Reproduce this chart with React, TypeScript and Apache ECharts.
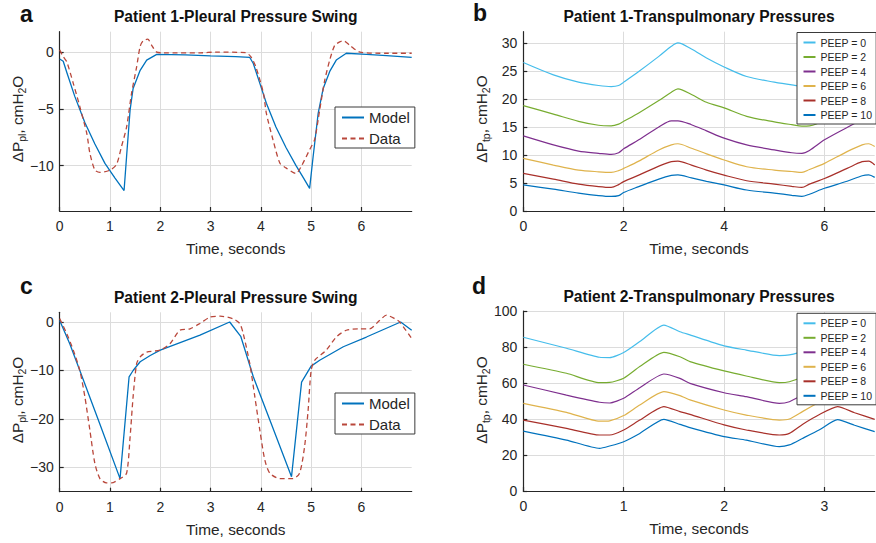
import React, { useEffect, useRef } from 'react';
import * as echarts from 'echarts';

const FONT = '"Liberation Sans", Arial, Helvetica, sans-serif';
const INK = '#262626';

// ---------- Panel a: Patient 1 pleural pressure swing ----------
const p1ModelT = [0, 0.07, 0.15, 0.3, 0.5, 0.7, 0.9, 1.1, 1.28, 1.33, 1.4, 1.46, 1.6, 1.73, 1.93, 2.5, 3.0, 3.5, 3.78, 3.85, 3.98, 4.11, 4.3, 4.5, 4.7, 4.85, 4.97, 5.04, 5.14, 5.24, 5.37, 5.5, 5.7, 6.1, 6.5, 7.0];
const p1ModelV = [-0.6, -0.8, -1.9, -3.9, -6.2, -8.1, -9.8, -11.1, -12.2, -9.2, -5.1, -3.2, -1.6, -0.7, -0.2, -0.25, -0.33, -0.4, -0.47, -1.0, -2.75, -4.5, -6.6, -8.4, -10.0, -11.1, -12.0, -9.2, -5.4, -3.2, -1.7, -0.7, -0.1, -0.2, -0.3, -0.47];
const p1DataT = [0, 0.07, 0.14, 0.27, 0.4, 0.54, 0.6, 0.7, 0.8, 1.0, 1.13, 1.23, 1.33, 1.43, 1.53, 1.6, 1.66, 1.75, 1.83, 1.93, 2.06, 2.8, 3.1, 3.7, 3.8, 3.9, 4.05, 4.11, 4.24, 4.38, 4.5, 4.7, 4.8, 4.97, 5.07, 5.17, 5.27, 5.37, 5.47, 5.57, 5.64, 5.77, 5.97, 6.5, 7.0];
const p1DataV = [0.2, -0.4, -0.85, -2.75, -4.8, -7.2, -8.9, -10.4, -10.6, -10.4, -9.9, -8.3, -6.6, -3.6, -1.3, 0.5, 1.0, 1.15, 0.6, 0, -0.06, -0.06, 0, -0.05, -0.4, -1.3, -3.6, -5.4, -7.7, -9.8, -10.2, -10.7, -10.1, -8.6, -7.7, -5.1, -2.5, -0.7, 0.6, 0.9, 1.0, 0.6, 0, -0.1, -0.1];

// ---------- Panel c: Patient 2 pleural pressure swing ----------
const p2ModelT = [0, 0.2, 0.4, 0.8, 1.2, 1.38, 1.46, 1.6, 1.8, 2.0, 2.79, 3.38, 3.6, 3.85, 4.2, 4.61, 4.81, 5.0, 5.17, 5.64, 6.1, 6.78, 7.0];
const p2ModelV = [0.3, -4.5, -10, -21.1, -32.3, -11.3, -10, -8.2, -6.9, -5.8, -2.7, 0, -2.95, -11.3, -20.8, -31.9, -12.4, -9.1, -7.9, -5.1, -3.1, 0, -1.7];
const p2DataT = [0, 0.14, 0.27, 0.4, 0.5, 0.6, 0.7, 0.8, 0.93, 1.03, 1.2, 1.33, 1.4, 1.46, 1.53, 1.6, 1.73, 2.0, 2.19, 2.39, 2.59, 2.79, 2.99, 3.19, 3.44, 3.58, 3.65, 3.78, 3.88, 3.98, 4.08, 4.18, 4.38, 4.64, 4.77, 4.87, 4.94, 5.0, 5.07, 5.3, 5.5, 5.7, 5.96, 6.16, 6.36, 6.5, 6.66, 6.76, 7.0];
const p2DataV = [0.7, -2.4, -5.8, -10, -15.4, -22.3, -29.2, -32.3, -33.2, -33.2, -32.3, -31.2, -23.7, -15.4, -8.6, -7.2, -6.2, -5.8, -4.5, -1.7, -1.4, -0.3, 1.0, 1.2, 0.7, -0.3, -2.4, -8.6, -15.4, -22.3, -28.5, -31.2, -32.3, -32.3, -31.2, -25.7, -18.2, -10, -7.9, -5.8, -3.1, -1.7, -1.4, -1.4, 0.3, 1.4, 0.7, 0, -3.4];

// ---------- Panel b: Patient 1 transpulmonary pressures ----------
const peepNames = ['PEEP = 0', 'PEEP = 2', 'PEEP = 4', 'PEEP = 6', 'PEEP = 8', 'PEEP = 10'];
const p1TpTime = [0, 0.6, 1.1, 1.5, 1.75, 1.9, 2.0, 2.3, 2.7, 2.95, 3.08, 3.35, 3.65, 4.0, 4.45, 5.0, 5.35, 5.55, 5.7, 6.0, 6.45, 6.75, 6.88, 7.0];
const p1Peep0 = [26.5, 24.3, 23.0, 22.4, 22.2, 22.4, 23.0, 24.9, 27.6, 29.4, 30.0, 28.9, 27.3, 25.7, 24.0, 23.0, 22.5, 22.3, 22.5, 24.0, 27.3, 29.4, 30.0, 29.7];
const p1Peep2 = [18.8, 17.3, 16.0, 15.3, 15.2, 15.5, 16.0, 17.5, 19.7, 21.2, 21.8, 20.8, 19.4, 18.4, 16.9, 15.9, 15.4, 15.15, 15.2, 16.3, 19.3, 21.2, 21.8, 21.5];
const p1Peep4 = [13.4, 11.8, 10.7, 10.3, 10.1, 10.4, 11.1, 12.7, 15.0, 16.1, 16.1, 15.4, 14.3, 13.0, 11.8, 10.9, 10.4, 10.3, 10.8, 12.7, 14.9, 16.2, 16.3, 16.0];
const p1Peep6 = [9.4, 8.2, 7.3, 7.0, 6.9, 7.2, 7.6, 8.9, 10.9, 11.8, 12.0, 11.2, 10.2, 9.1, 7.9, 7.3, 7.05, 6.9, 7.4, 8.5, 10.6, 11.8, 12.0, 11.5];
const p1Peep8 = [6.7, 5.7, 4.8, 4.35, 4.2, 4.7, 5.25, 6.4, 8.0, 8.8, 8.9, 8.2, 7.3, 6.4, 5.4, 4.8, 4.4, 4.2, 4.8, 5.8, 7.6, 8.8, 8.9, 8.2];
const p1Peep10 = [4.65, 3.9, 3.2, 2.75, 2.6, 2.75, 3.3, 4.35, 5.7, 6.35, 6.45, 5.9, 5.3, 4.65, 3.75, 3.2, 2.8, 2.6, 3.0, 4.05, 5.3, 6.3, 6.45, 6.0];

// ---------- Panel d: Patient 2 transpulmonary pressures ----------
const p2TpTime = [0, 0.43, 0.76, 0.86, 1.0, 1.16, 1.4, 1.56, 1.66, 2.0, 2.22, 2.55, 2.65, 2.78, 2.95, 3.13, 3.3, 3.5];
const p2Peep0 = [85.4, 79.3, 74.3, 74.1, 76.9, 83.0, 92.2, 88.5, 86.7, 80.6, 78.3, 75.2, 75.6, 77.7, 83.5, 92.0, 88.5, 84.8];
const p2Peep2 = [70.4, 65.4, 60.2, 60.3, 62.6, 69.1, 77.0, 74.6, 71.9, 66.7, 63.9, 60.2, 60.7, 63.5, 69.3, 77.0, 74.0, 70.0];
const p2Peep4 = [58.9, 53.3, 49.3, 48.9, 51.5, 57.4, 65.0, 62.6, 59.8, 54.6, 52.4, 48.7, 49.6, 53.3, 58.5, 65.0, 61.5, 58.3];
const p2Peep6 = [48.7, 43.7, 38.8, 39.0, 41.9, 47.8, 55.2, 53.0, 50.6, 45.0, 42.2, 39.4, 40.0, 44.1, 49.5, 55.0, 51.5, 48.2];
const p2Peep8 = [39.4, 34.8, 31.1, 31.1, 33.9, 39.4, 46.9, 44.1, 42.6, 36.7, 33.9, 31.1, 32.0, 37.0, 42.5, 46.9, 43.5, 39.8];
const p2Peep10 = [33.3, 28.3, 23.7, 25.0, 27.4, 32.0, 39.8, 37.0, 35.2, 30.2, 28.3, 24.6, 25.6, 29.2, 34.0, 39.6, 36.5, 33.0];

// ---------- tick labels ----------
const ticksTimeA = [0, 1, 2, 3, 4, 5, 6];
const ticksTimeB = [0, 2, 4, 6];
const ticksTimeD = [0, 1, 2, 3];
const ticksPplA = [-10, -5, 0];
const ticksPplC = [-30, -20, -10, 0];
const ticksPtpB = [0, 5, 10, 15, 20, 25, 30];
const ticksPtpD = [0, 20, 40, 60, 80, 100];

const peepColors = ['#45BDEB', '#77AC30', '#7E2F8E', '#DFB34C', '#A8302A', '#0072BD'];
const modelColor = '#0072BD';
const dataColor = '#B9473B';

const zip = (t: number[], v: number[]) => t.map((x, i) => [x, v[i]]);
const fmt = (v: number) => (v < 0 ? '\u2212' + String(Math.abs(v)) : String(v));

function xAxisDef(grid: number, min: number, max: number, ticks: number[]) {
  return {
    type: 'value', gridIndex: grid, min, max,
    axisLine: { show: true, onZero: false, lineStyle: { color: INK, width: 1.2 } },
    axisTick: { show: true, inside: true, length: 4, customValues: ticks, lineStyle: { color: INK, width: 1.2 } },
    axisLabel: { customValues: ticks, formatter: fmt, fontSize: 14, color: INK, fontFamily: FONT, margin: 8 },
    splitLine: { show: true, lineStyle: { color: '#dcdcdc', width: 1 } },
    name: 'Time, seconds', nameLocation: 'middle', nameGap: 30,
    nameTextStyle: { fontSize: 15.4, color: INK, fontFamily: FONT },
  };
}
function yAxisDef(grid: number, min: number, max: number, ticks: number[]) {
  return {
    type: 'value', gridIndex: grid, min, max,
    axisLine: { show: true, onZero: false, lineStyle: { color: INK, width: 1.2 } },
    axisTick: { show: true, inside: true, length: 4, customValues: ticks, lineStyle: { color: INK, width: 1.2 } },
    axisLabel: { customValues: ticks, formatter: fmt, fontSize: 14, color: INK, fontFamily: FONT, margin: 6 },
    splitLine: { show: true, lineStyle: { color: '#dcdcdc', width: 1 } },
  };
}

function yLabel(x: number, y: number, sub: string) {
  return {
    type: 'text', x, y, rotation: Math.PI / 2,
    style: {
      text: '{m|ΔP}{s|' + sub + '}{m|, cmH}{s|2}{m|O}',
      align: 'center', verticalAlign: 'middle', textAlign: 'center', textVerticalAlign: 'middle',
      rich: {
        m: { fontSize: 15.4, fontFamily: FONT, fill: INK, lineHeight: 20 },
        s: { fontSize: 10.5, fontFamily: FONT, fill: INK, lineHeight: 8, verticalAlign: 'bottom' },
      },
    },
  };
}
function txt(x: number, y: number, text: string, size: number, align = 'center') {
  return {
    type: 'text', x, y,
    style: {
      text, fontSize: size, fontWeight: 'bold', fontFamily: FONT, fill: '#111',
      align, verticalAlign: 'middle', textAlign: align, textVerticalAlign: 'middle',
    },
  };
}

function pplLegend(top: number) {
  return {
    data: ['Model', 'Data'], orient: 'vertical', left: 335, top,
    padding: [3, 5, 2, 6], itemGap: 6, itemWidth: 22, itemHeight: 14,
    borderColor: '#3a3a3a', borderWidth: 1, backgroundColor: '#fff', borderRadius: 0,
    selectedMode: false, lineStyle: { width: 2 }, itemStyle: { opacity: 0 },
    textStyle: { fontSize: 15, color: INK, fontFamily: FONT },
  };
}
function peepLegend(top: number) {
  return {
    data: peepNames, orient: 'vertical', left: 797, top,
    padding: [4, 4, 3, 5.5], itemGap: 2.5, itemWidth: 12, itemHeight: 12,
    borderColor: '#3a3a3a', borderWidth: 1, backgroundColor: '#fff', borderRadius: 0,
    selectedMode: false, itemStyle: { opacity: 0 },
    textStyle: { fontSize: 10.5, color: INK, fontFamily: FONT, lineHeight: 12 },
  };
}

export default function App() {
  const ref = useRef<HTMLDivElement>(null);
  useEffect(() => {
    if (!ref.current) return;
    const chart = echarts.init(ref.current, undefined, { renderer: 'svg' });
    const p1Tp = [p1Peep0, p1Peep2, p1Peep4, p1Peep6, p1Peep8, p1Peep10];
    const p2Tp = [p2Peep0, p2Peep2, p2Peep4, p2Peep6, p2Peep8, p2Peep10];
    const series: any[] = [
      { name: 'Model', type: 'line', xAxisIndex: 0, yAxisIndex: 0, data: zip(p1ModelT, p1ModelV), symbol: 'none', lineStyle: { color: modelColor, width: 1.3 }, itemStyle: { color: modelColor } },
      { name: 'Data', type: 'line', xAxisIndex: 0, yAxisIndex: 0, data: zip(p1DataT, p1DataV), symbol: 'none', smooth: 0.25, lineStyle: { color: dataColor, width: 1.3, type: [5, 3.5] }, itemStyle: { color: dataColor } },
      { name: 'Model', type: 'line', xAxisIndex: 2, yAxisIndex: 2, data: zip(p2ModelT, p2ModelV), symbol: 'none', lineStyle: { color: modelColor, width: 1.3 }, itemStyle: { color: modelColor } },
      { name: 'Data', type: 'line', xAxisIndex: 2, yAxisIndex: 2, data: zip(p2DataT, p2DataV), symbol: 'none', smooth: 0.25, lineStyle: { color: dataColor, width: 1.3, type: [5, 3.5] }, itemStyle: { color: dataColor } },
    ];
    p1Tp.forEach((vals, i) => series.push({
      name: peepNames[i], type: 'line', xAxisIndex: 1, yAxisIndex: 1, data: zip(p1TpTime, vals), symbol: 'none', smooth: 0.3,
      lineStyle: { color: peepColors[i], width: 1.2 }, itemStyle: { color: peepColors[i] },
    }));
    p2Tp.forEach((vals, i) => series.push({
      name: peepNames[i], type: 'line', xAxisIndex: 3, yAxisIndex: 3, data: zip(p2TpTime, vals), symbol: 'none', smooth: 0.2,
      lineStyle: { color: peepColors[i], width: 1.2 }, itemStyle: { color: peepColors[i] },
    }));

    chart.setOption({
      animation: false,
      backgroundColor: '#fff',
      grid: [
        { left: 59.7, top: 31.7, width: 352, height: 179.3 },
        { left: 523.3, top: 31.7, width: 351.4, height: 179.3 },
        { left: 59.7, top: 312.3, width: 352, height: 179.4 },
        { left: 523.3, top: 311, width: 351.4, height: 180 },
      ],
      xAxis: [
        xAxisDef(0, 0, 7, ticksTimeA),
        xAxisDef(1, 0, 7, ticksTimeB),
        xAxisDef(2, 0, 7, ticksTimeA),
        xAxisDef(3, 0, 3.5, ticksTimeD),
      ],
      yAxis: [
        yAxisDef(0, -14, 1.8, ticksPplA),
        yAxisDef(1, 0, 32, ticksPtpB),
        yAxisDef(2, -35, 2, ticksPplC),
        yAxisDef(3, 0, 100, ticksPtpD),
      ],
      legend: [pplLegend(107), peepLegend(32.5), pplLegend(393), peepLegend(313.3)],
      graphic: [
        txt(235.7, 16, 'Patient 1-Pleural Pressure Swing', 15.6),
        txt(699, 16, 'Patient 1-Transpulmonary Pressures', 15.6),
        txt(235.7, 297, 'Patient 2-Pleural Pressure Swing', 15.6),
        txt(699, 296, 'Patient 2-Transpulmonary Pressures', 15.6),
        txt(20, 14, 'a', 23, 'left'),
        txt(473, 13, 'b', 23, 'left'),
        txt(20, 286, 'c', 23, 'left'),
        txt(472, 286, 'd', 23, 'left'),
        yLabel(17, 119, 'pl'),
        yLabel(481, 119, 'tp'),
        yLabel(17, 400, 'pl'),
        yLabel(481, 400, 'tp'),
      ],
      series,
    });
    return () => chart.dispose();
  }, []);
  return <div ref={ref} style={{ position: 'fixed', left: 0, top: 0, width: 876, height: 543, background: '#fff' }} />;
}
